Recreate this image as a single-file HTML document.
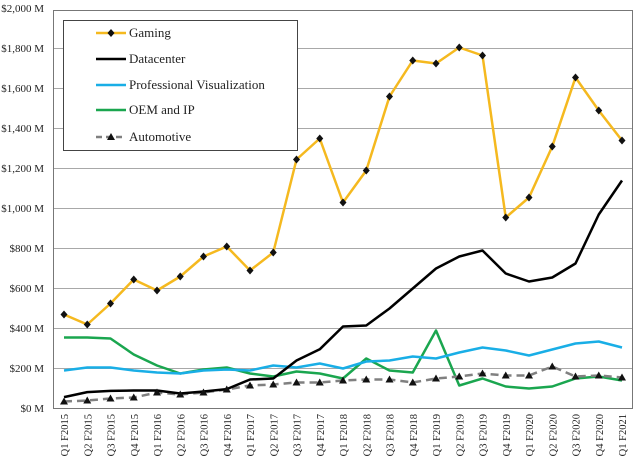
<!DOCTYPE html>
<html><head><meta charset="utf-8"><style>html,body{margin:0;padding:0;background:#fff}svg{display:block}text{font-family:"Liberation Serif",serif;fill:#222}</style></head><body>
<svg width="640" height="460" viewBox="0 0 640 460" xmlns="http://www.w3.org/2000/svg">
<rect width="640" height="460" fill="#fff"/>
<g stroke="#a8a8a8" stroke-width="1">
<line x1="53" y1="48.5" x2="633" y2="48.5"/><line x1="53" y1="88.5" x2="633" y2="88.5"/><line x1="53" y1="128.5" x2="633" y2="128.5"/><line x1="53" y1="168.5" x2="633" y2="168.5"/><line x1="53" y1="208.5" x2="633" y2="208.5"/><line x1="53" y1="248.5" x2="633" y2="248.5"/><line x1="53" y1="288.5" x2="633" y2="288.5"/><line x1="53" y1="328.5" x2="633" y2="328.5"/><line x1="53" y1="368.5" x2="633" y2="368.5"/>
</g>
<rect x="53.5" y="10.5" width="579" height="398" fill="none" stroke="#777" stroke-width="1"/>
<g font-size="11" text-anchor="end">
<text x="44" y="12">$2,000 M</text><text x="44" y="52">$1,800 M</text><text x="44" y="92">$1,600 M</text><text x="44" y="132">$1,400 M</text><text x="44" y="172">$1,200 M</text><text x="44" y="212">$1,000 M</text><text x="44" y="252">$800 M</text><text x="44" y="292">$600 M</text><text x="44" y="332">$400 M</text><text x="44" y="372">$200 M</text><text x="44" y="412">$0 M</text>
</g>
<g font-size="10.5" text-anchor="end">
<text transform="translate(68,414) rotate(-90)">Q1 F2015</text><text transform="translate(91.25,414) rotate(-90)">Q2 F2015</text><text transform="translate(114.5,414) rotate(-90)">Q3 F2015</text><text transform="translate(137.75,414) rotate(-90)">Q4 F2015</text><text transform="translate(161,414) rotate(-90)">Q1 F2016</text><text transform="translate(184.25,414) rotate(-90)">Q2 F2016</text><text transform="translate(207.5,414) rotate(-90)">Q3 F2016</text><text transform="translate(230.75,414) rotate(-90)">Q4 F2016</text><text transform="translate(254,414) rotate(-90)">Q1 F2017</text><text transform="translate(277.25,414) rotate(-90)">Q2 F2017</text><text transform="translate(300.5,414) rotate(-90)">Q3 F2017</text><text transform="translate(323.75,414) rotate(-90)">Q4 F2017</text><text transform="translate(347,414) rotate(-90)">Q1 F2018</text><text transform="translate(370.25,414) rotate(-90)">Q2 F2018</text><text transform="translate(393.5,414) rotate(-90)">Q3 F2018</text><text transform="translate(416.75,414) rotate(-90)">Q4 F2018</text><text transform="translate(440,414) rotate(-90)">Q1 F2019</text><text transform="translate(463.25,414) rotate(-90)">Q2 F2019</text><text transform="translate(486.5,414) rotate(-90)">Q3 F2019</text><text transform="translate(509.75,414) rotate(-90)">Q4 F2019</text><text transform="translate(533,414) rotate(-90)">Q1 F2020</text><text transform="translate(556.25,414) rotate(-90)">Q2 F2020</text><text transform="translate(579.5,414) rotate(-90)">Q3 F2020</text><text transform="translate(602.75,414) rotate(-90)">Q4 F2020</text><text transform="translate(626,414) rotate(-90)">Q1 F2021</text>
</g>
<g fill="none" stroke-width="2.5" stroke-linejoin="round">
<polyline stroke="#1aa64f" points="64,337.5 87.25,337.5 110.5,338.5 133.75,354.5 157,365.5 180.25,373.5 203.5,369.5 226.75,367.5 250,373.5 273.25,376.5 296.5,371.5 319.75,373.5 343,378.5 366.25,358.5 389.5,370.5 412.75,372.5 436,330.5 459.25,385.5 482.5,378.5 505.75,386.5 529,388.5 552.25,386.5 575.5,378.5 598.75,376.5 622,380.5"/>
<polyline stroke="#19aee6" points="64,370.5 87.25,367.5 110.5,367.5 133.75,370.5 157,372.5 180.25,373.5 203.5,370.5 226.75,369.5 250,370.5 273.25,365.5 296.5,367.5 319.75,363.5 343,368.5 366.25,361.5 389.5,360.5 412.75,356.5 436,358.5 459.25,352.5 482.5,347.5 505.75,350.5 529,355.5 552.25,349.5 575.5,343.5 598.75,341.5 622,347.5"/>
<polyline stroke="#808080" stroke-dasharray="8,5" points="64,401.5 87.25,400.5 110.5,398.5 133.75,397.5 157,392.5 180.25,394.5 203.5,392.5 226.75,389.5 250,385.5 273.25,384.5 296.5,382.5 319.75,382.5 343,380.5 366.25,379.5 389.5,379.5 412.75,382.5 436,378.5 459.25,376.5 482.5,373.5 505.75,375.5 529,375.5 552.25,366.5 575.5,376.5 598.75,375.5 622,377.5"/>
<polyline stroke="#000" points="64,397.1 87.25,392.1 110.5,390.9 133.75,390.5 157,390.5 180.25,393.5 203.5,391.5 226.75,389.1 250,379.5 273.25,378.5 296.5,360.5 319.75,349.3 343,326.5 366.25,325.5 389.5,308.5 412.75,288.5 436,268.5 459.25,256.5 482.5,250.5 505.75,273.5 529,281.5 552.25,277.5 575.5,263.5 598.75,214.5 622,180.5"/>
<polyline stroke="#f5b91f" points="64,314.5 87.25,324.5 110.5,303.5 133.75,279.5 157,290.5 180.25,276.5 203.5,256.5 226.75,246.5 250,270.5 273.25,252.5 296.5,159.5 319.75,138.5 343,202.5 366.25,170.5 389.5,96.5 412.75,60.5 436,63.5 459.25,47.5 482.5,55.5 505.75,217.5 529,197.5 552.25,146.5 575.5,77.5 598.75,110.5 622,140.5"/>
</g>
<g fill="#111">
<path d="M64,310.5l3.5,4l-3.5,4l-3.5,-4z M87.25,320.5l3.5,4l-3.5,4l-3.5,-4z M110.5,299.5l3.5,4l-3.5,4l-3.5,-4z M133.75,275.5l3.5,4l-3.5,4l-3.5,-4z M157,286.5l3.5,4l-3.5,4l-3.5,-4z M180.25,272.5l3.5,4l-3.5,4l-3.5,-4z M203.5,252.5l3.5,4l-3.5,4l-3.5,-4z M226.75,242.5l3.5,4l-3.5,4l-3.5,-4z M250,266.5l3.5,4l-3.5,4l-3.5,-4z M273.25,248.5l3.5,4l-3.5,4l-3.5,-4z M296.5,155.5l3.5,4l-3.5,4l-3.5,-4z M319.75,134.5l3.5,4l-3.5,4l-3.5,-4z M343,198.5l3.5,4l-3.5,4l-3.5,-4z M366.25,166.5l3.5,4l-3.5,4l-3.5,-4z M389.5,92.5l3.5,4l-3.5,4l-3.5,-4z M412.75,56.5l3.5,4l-3.5,4l-3.5,-4z M436,59.5l3.5,4l-3.5,4l-3.5,-4z M459.25,43.5l3.5,4l-3.5,4l-3.5,-4z M482.5,51.5l3.5,4l-3.5,4l-3.5,-4z M505.75,213.5l3.5,4l-3.5,4l-3.5,-4z M529,193.5l3.5,4l-3.5,4l-3.5,-4z M552.25,142.5l3.5,4l-3.5,4l-3.5,-4z M575.5,73.5l3.5,4l-3.5,4l-3.5,-4z M598.75,106.5l3.5,4l-3.5,4l-3.5,-4z M622,136.5l3.5,4l-3.5,4l-3.5,-4z"/>
<path d="M64,397.5l4,7h-8z M87.25,396.5l4,7h-8z M110.5,394.5l4,7h-8z M133.75,393.5l4,7h-8z M157,388.5l4,7h-8z M180.25,390.5l4,7h-8z M203.5,388.5l4,7h-8z M226.75,385.5l4,7h-8z M250,381.5l4,7h-8z M273.25,380.5l4,7h-8z M296.5,378.5l4,7h-8z M319.75,378.5l4,7h-8z M343,376.5l4,7h-8z M366.25,375.5l4,7h-8z M389.5,375.5l4,7h-8z M412.75,378.5l4,7h-8z M436,374.5l4,7h-8z M459.25,372.5l4,7h-8z M482.5,369.5l4,7h-8z M505.75,371.5l4,7h-8z M529,371.5l4,7h-8z M552.25,362.5l4,7h-8z M575.5,372.5l4,7h-8z M598.75,371.5l4,7h-8z M622,373.5l4,7h-8z"/>
</g>
<rect x="63.5" y="20.5" width="234" height="130" fill="#fff" stroke="#444" stroke-width="1"/>
<g stroke-width="2.5">
<line x1="96" y1="33" x2="126" y2="33" stroke="#f5b91f"/>
<line x1="96" y1="59" x2="126" y2="59" stroke="#000"/>
<line x1="96" y1="85" x2="126" y2="85" stroke="#19aee6"/>
<line x1="96" y1="110" x2="126" y2="110" stroke="#1aa64f"/>
<line x1="96" y1="137" x2="126" y2="137" stroke="#808080" stroke-dasharray="6,4"/>
</g>
<path d="M111,29l3.5,4l-3.5,4l-3.5,-4z M111,133l4,7h-8z" fill="#111"/>
<g font-size="13">
<text x="129" y="37">Gaming</text>
<text x="129" y="63">Datacenter</text>
<text x="129" y="89">Professional Visualization</text>
<text x="129" y="114">OEM and IP</text>
<text x="129" y="141">Automotive</text>
</g>
</svg>
</body></html>
